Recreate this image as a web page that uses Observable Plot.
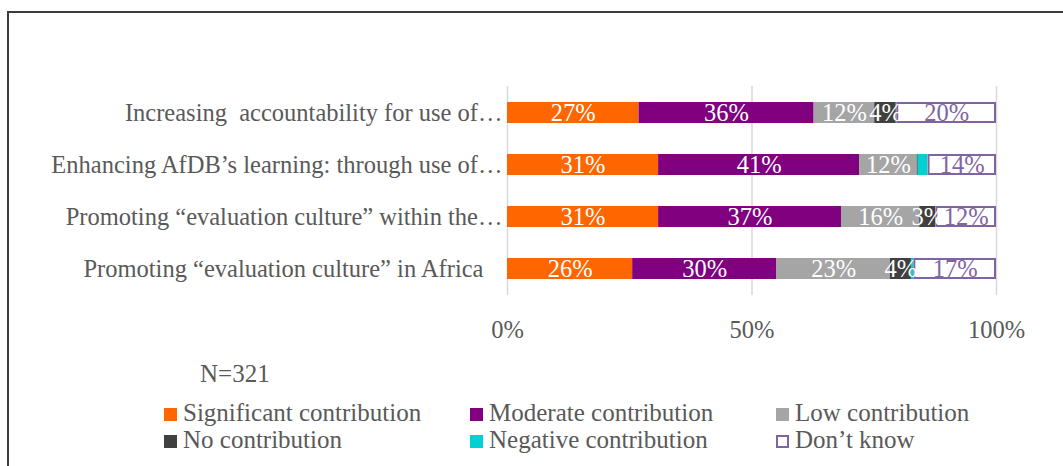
<!DOCTYPE html>
<html><head><meta charset="utf-8">
<script src="https://cdn.jsdelivr.net/npm/d3@7"></script>
<script src="https://cdn.jsdelivr.net/npm/@observablehq/plot@0.6"></script>
<style>
html,body{margin:0;padding:0;background:#fff;width:1063px;height:466px;overflow:hidden;position:relative;font-family:"Liberation Serif",serif;color:#595959}
#frame{position:absolute;left:7px;top:11px;width:1200px;height:600px;border-top:2px solid #3c3c3c;border-left:2px solid #3c3c3c;box-sizing:border-box;pointer-events:none}
#chart{position:absolute;left:0;top:0}
#chart svg text{white-space:pre}
.note,.item{font-family:"Liberation Serif",serif;color:#595959}
.note{position:absolute;left:200px;top:360px;font-size:25px;line-height:28px;white-space:nowrap}
.item{position:absolute;font-size:25px;line-height:28px;white-space:nowrap}
.sw{position:absolute;width:13px;height:13px;box-sizing:border-box}
</style></head><body>
<div id="chart"></div>
<div id="frame"></div>
<div id="legend"></div>
<script>
const categories = [
  "Increasing  accountability for use of…",
  "Enhancing AfDB’s learning: through use of…",
  "Promoting “evaluation culture” within the…",
  "Promoting “evaluation culture” in Africa"
];
const seriesNames = ["Significant contribution", "Moderate contribution", "Low contribution", "No contribution", "Negative contribution", "Don’t know"];
const seriesColors = ["#FF6600", "#800080", "#A5A5A5", "#404040", "#00D2D2", "#FFFFFF"];
const significant = [26.9, 30.9, 30.9, 25.6];
const moderate    = [35.8, 41.1, 37.4, 29.5];
const low         = [12.4, 11.8, 16.0, 23.2];
const noContrib   = [4.4, 0.2, 3.3, 4.3];
const negative    = [0.1, 2.0, 0.0, 0.5];
const dontKnow    = [20.4, 14.0, 12.4, 16.9];
const xTicks = [0, 50, 100];
const sampleNote = "N=321";

const seriesValues = [significant, moderate, low, noContrib, negative, dontKnow];
const dk = seriesNames[5];
const dkColor = "#8064A2";
const rows = [];
categories.forEach((c, i) => {
  seriesNames.forEach((s, j) => rows.push({category: c, series: s, value: seriesValues[j][i]}));
});
const fmt = v => Math.round(v) + "%";
const fs = 24.5;

const plot = Plot.plot({
  width: 1063, height: 345,
  marginLeft: 507, marginRight: 67, marginTop: 86, marginBottom: 50,
  style: {fontFamily: '"Liberation Serif", serif', fontSize: fs + "px", color: "#595959", background: "transparent"},
  x: {domain: [0, 100], axis: null, label: null},
  y: {domain: categories, axis: null, label: null, paddingInner: 0.6, paddingOuter: 0.3},
  color: {domain: seriesNames, range: seriesColors},
  marks: [
    Plot.gridX(xTicks, {stroke: "#d9d9d9", strokeOpacity: 1, strokeWidth: 1.5}),
    Plot.axisX(xTicks, {tickSize: 0, tickPadding: 25, tickFormat: d => d + "%", label: null, fontSize: fs, fill: "#595959"}),
    Plot.barX(rows, Plot.stackX({x: "value", y: "category", fill: "series"})),
    Plot.barX(rows, Plot.stackX({x: "value", y: "category", fill: "none", stroke: dkColor, strokeWidth: 2, inset: 1,
      strokeOpacity: d => d.series === dk ? 1 : 0})),
    Plot.text(rows, Plot.stackX({x: "value", y: "category", fontSize: fs, fill: "white",
      text: d => (d.series !== dk && d.value >= 2.5) ? fmt(d.value) : ""})),
    Plot.text(rows, Plot.stackX({x: "value", y: "category", fontSize: fs, fill: dkColor,
      text: d => d.series === dk ? fmt(d.value) : ""})),
    Plot.text(categories, {filter: (d, i) => i < 3, y: d => d, frameAnchor: "left", textAnchor: "end", dx: -5, fill: "#595959", fontSize: fs}),
    Plot.text(categories, {filter: (d, i) => i === 3, y: d => d, frameAnchor: "left", textAnchor: "end", dx: -24, fill: "#595959", fontSize: fs})
  ]
});
document.getElementById("chart").appendChild(plot);

const legend = document.getElementById("legend");
const note = document.createElement("div");
note.className = "note";
note.textContent = sampleNote;
legend.appendChild(note);
const colX = [164, 470, 776];
const rowY = [408, 435];
seriesNames.forEach((s, j) => {
  const x = colX[j % 3], y = rowY[Math.floor(j / 3)];
  const sw = document.createElement("div");
  sw.className = "sw";
  sw.style.left = x + "px"; sw.style.top = y + "px";
  if (s === dk) { sw.style.border = "2px solid " + dkColor; sw.style.background = "#fff"; }
  else sw.style.background = seriesColors[j];
  legend.appendChild(sw);
  const t = document.createElement("div");
  t.className = "item";
  t.style.left = (x + 19) + "px"; t.style.top = (y - 9) + "px";
  t.textContent = s;
  legend.appendChild(t);
});
</script></body></html>
